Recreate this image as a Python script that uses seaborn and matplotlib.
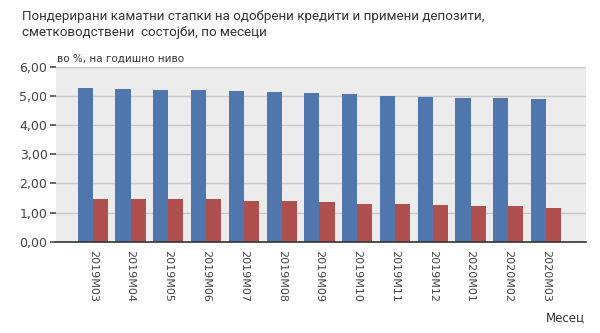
import matplotlib
matplotlib.use("Agg")
import matplotlib.pyplot as plt
import seaborn as sns
import pandas as pd

months = ["2019M03", "2019M04", "2019M05", "2019M06", "2019M07", "2019M08", "2019M09",
          "2019M10", "2019M11", "2019M12", "2020M01", "2020M02", "2020M03"]
loans = [5.26, 5.23, 5.19, 5.19, 5.16, 5.12, 5.09, 5.06, 4.99, 4.96, 4.92, 4.92, 4.88]
deposits = [1.45, 1.45, 1.45, 1.45, 1.41, 1.41, 1.37, 1.30, 1.30, 1.27, 1.21, 1.21, 1.15]
series_names = ["Кредити", "Депозити"]
yticks = [0, 1, 2, 3, 4, 5, 6]

df = pd.DataFrame({
    "month": months * 2,
    "value": loans + deposits,
    "series": [series_names[0]] * len(months) + [series_names[1]] * len(months),
})

sns.set_theme(style="white")
plt.rcParams["font.family"] = ["DejaVu Sans"]

fig = plt.figure(figsize=(6, 3.33), dpi=100)
ax = fig.add_axes([0.093, 0.274, 0.884, 0.526])
ax.set_facecolor("#ececec")

sns.barplot(data=df, x="month", y="value", hue="series", order=months,
            hue_order=series_names, palette=["#4f76ad", "#b0504e"],
            width=0.8, saturation=1, ax=ax, legend=False, zorder=3,
            linewidth=0, edgecolor="none")

ax.set_ylim(0, 6)
ax.set_yticks(yticks)
ax.set_yticklabels([f"{v:.2f}".replace(".", ",") for v in yticks], fontsize=9, color="#444444")
ax.set_xlim(-0.98, 13.06)
ax.yaxis.grid(True, color="#c8c8c8", linewidth=1, zorder=0)
ax.set_axisbelow(True)
for s in ["top", "right", "left"]:
    ax.spines[s].set_visible(False)
ax.spines["bottom"].set_color("#333333")
ax.spines["bottom"].set_linewidth(1.2)
ax.spines["bottom"].set_zorder(5)
ax.tick_params(axis="y", length=4, color="#555555", left=True, pad=2)
ax.tick_params(axis="x", length=0, pad=6)
for lbl in ax.get_xticklabels():
    lbl.set_rotation(270)
    lbl.set_fontsize(8)
    lbl.set_color("#444444")
ax.set_xlabel("")
ax.set_ylabel("")

fig.text(0.037, 0.97, "Пондерирани каматни стапки на одобрени кредити и примени депозити,\nсметководствени  состојби, по месеци",
         fontsize=9.6, color="#333333", va="top", ha="left", linespacing=1.3,
         family=["Roboto", "DejaVu Sans"])
fig.text(0.095, 0.81, "во %, на годишно ниво", fontsize=7.5, color="#333333", ha="left", va="bottom")
fig.text(0.975, 0.025, "Месец", fontsize=8.5, color="#333333", ha="right", va="bottom")

fig.savefig("out.png", dpi=100, facecolor="white")
